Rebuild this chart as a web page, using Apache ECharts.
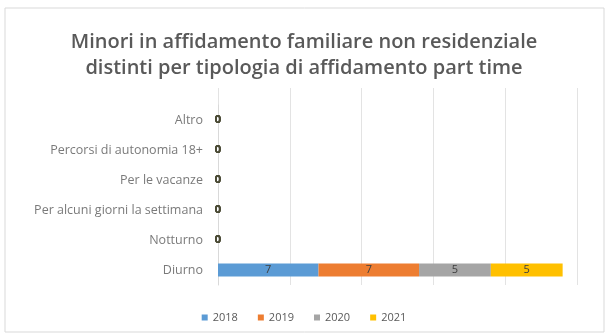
<!DOCTYPE html>
<html>
<head>
<meta charset="utf-8">
<script src="https://cdn.jsdelivr.net/npm/echarts@6/dist/echarts.min.js"></script>
<style>
  html, body { margin: 0; padding: 0; background: #ffffff; }
  #chart { width: 608px; height: 335px; }
</style>
</head>
<body>
<div id="chart"></div>
<script>
// Tipologie di affidamento part time (dal basso verso l'alto)
var categories = ['Diurno', 'Notturno', 'Per alcuni giorni la settimana', 'Per le vacanze', 'Percorsi di autonomia 18+', 'Altro'];
var years = ['2018', '2019', '2020', '2021'];
var values2018 = [7, 0, 0, 0, 0, 0];
var values2019 = [7, 0, 0, 0, 0, 0];
var values2020 = [5, 0, 0, 0, 0, 0];
var values2021 = [5, 0, 0, 0, 0, 0];
var colors = ['#5B9BD5', '#ED7D31', '#A5A5A5', '#FFC000'];
var axisMax = 25;
var axisStep = 5;

var FONT = '"Open Sans", "Liberation Sans", sans-serif';
var seriesValues = [values2018, values2019, values2020, values2021];

var chart = echarts.init(document.getElementById('chart'), null, { renderer: 'canvas' });

var series = years.map(function (y, i) {
  return {
    name: y,
    type: 'bar',
    stack: 'totale',
    xAxisIndex: 0,
    yAxisIndex: 0,
    barWidth: 13,
    itemStyle: { color: colors[i] },
    label: {
      show: true,
      position: 'inside',
      fontFamily: FONT,
      fontSize: 11,
      color: '#404040',
      formatter: function (p) { return p.value === 0 ? '{z|0}' : String(p.value); },
      rich: { z: { fontFamily: FONT, fontSize: 11, fontWeight: 'bold', color: '#4a4a35' } }
    },
    emphasis: { disabled: true },
    data: seriesValues[i]
  };
});

chart.setOption({
  animation: false,
  backgroundColor: '#ffffff',
  color: colors,
  title: {
    text: 'Minori in affidamento familiare non residenziale\ndistinti per tipologia di affidamento part time',
    left: 'center',
    top: 24,
    textStyle: {
      fontFamily: FONT,
      fontSize: 20,
      fontWeight: 600,
      color: '#595959',
      lineHeight: 26
    }
  },
  legend: {
    data: years,
    bottom: 7,
    left: 'center',
    icon: 'rect',
    itemWidth: 6,
    itemHeight: 6,
    itemGap: 20,
    textStyle: { fontFamily: FONT, fontSize: 11, color: '#595959' }
  },
  graphic: [{
    type: 'rect',
    shape: { x: 5, y: 8, width: 599, height: 324 },
    style: { fill: 'none', stroke: '#d9d9d9', lineWidth: 1 },
    silent: true,
    z: -1
  }],
  grid: [
    { left: 218, right: 31, top: 105, bottom: 50 },
    { left: 218, right: 31, top: 88, bottom: 50 }
  ],
  xAxis: [
    {
      type: 'value', gridIndex: 0, min: 0, max: axisMax, interval: axisStep,
      axisLine: { show: false }, axisTick: { show: false },
      axisLabel: { show: false }, splitLine: { show: false }
    },
    {
      type: 'value', gridIndex: 1, min: 0, max: axisMax, interval: axisStep,
      axisLine: { show: false }, axisTick: { show: false },
      axisLabel: { show: false },
      splitLine: { show: true, lineStyle: { color: '#e3e3e3', width: 1 } }
    }
  ],
  yAxis: [
    {
      type: 'category', gridIndex: 0, data: categories,
      axisLine: { show: true, lineStyle: { color: '#d9d9d9' } },
      axisTick: { show: false },
      axisLabel: { fontFamily: FONT, fontSize: 12.5, color: '#7a7a7a', margin: 15 }
    },
    {
      type: 'value', gridIndex: 1, show: false
    }
  ],
  series: series
});
</script>
</body>
</html>
